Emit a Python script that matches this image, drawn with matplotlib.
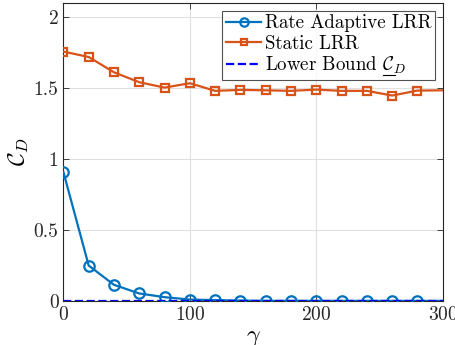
import numpy as np
import matplotlib
matplotlib.use("Agg")
import matplotlib.pyplot as plt
from matplotlib.lines import Line2D

# data
gamma = [0, 20, 40, 60, 80, 100, 120, 140, 160, 180, 200, 220, 240, 260, 280, 300]
rate_adaptive = [0.909, 0.249, 0.113, 0.052, 0.026, 0.009, 0.005, 0.002,
                 0.0, 0.0, 0.0, 0.0, 0.0, 0.0, 0.0, 0.0]
static = [1.758, 1.720, 1.612, 1.542, 1.504, 1.535, 1.481, 1.488,
          1.485, 1.481, 1.490, 1.481, 1.481, 1.448, 1.483, 1.485]
lower_bound = [0.0] * len(gamma)

plt.rcParams['font.family'] = 'serif'
plt.rcParams['font.serif'] = ['cmr10']
plt.rcParams['mathtext.fontset'] = 'cm'
plt.rcParams['axes.formatter.use_mathtext'] = True

fig = plt.figure(figsize=(4.56, 3.45), dpi=100)
ax = fig.add_axes([0.139, 0.128, 0.832, 0.863])

marks = list(range(len(gamma) - 1))  # last point sits on the axis edge, no marker there
ax.plot(gamma, rate_adaptive, '-o', color='#0072BD', lw=1.6, ms=7.5,
        mfc='none', mew=1.6, markevery=marks, label='Rate Adaptive LRR', zorder=3)
ax.plot(gamma, static, '-s', color='#D95319', lw=1.6, ms=6,
        mfc='none', mew=1.6, markevery=marks, label='Static LRR', zorder=3)
ax.plot(gamma, lower_bound, '--', color='blue', lw=1.6,
        label=r'Lower Bound $\mathcal{C}_D$', zorder=4)

ax.set_xlim(0, 300)
ax.set_ylim(0, 2.1)
ax.set_xticks([0, 100, 200, 300])
ax.set_yticks([0, 0.5, 1, 1.5, 2])
ax.set_yticklabels(['0', '0.5', '1', '1.5', '2'])
ax.tick_params(direction='in', top=True, right=True, labelsize=14,
               length=4, width=0.6, colors='#262626', labelcolor='#262626')
ax.grid(True, color='#dfdfdf', lw=0.8)
ax.set_axisbelow(True)
for s in ax.spines.values():
    s.set_color('#262626')
    s.set_linewidth(0.8)

ax.set_xlabel(r'$\gamma$', fontsize=17, labelpad=2)
ax.set_ylabel(r'$\mathcal{C}_D$', fontsize=17, labelpad=2)

leg = ax.legend(loc='upper right', fontsize=13.6, frameon=True, fancybox=False,
                handlelength=1.85, handletextpad=0.2, borderpad=0.2,
                labelspacing=0.12, borderaxespad=0.4, markerscale=0.8)
leg.get_frame().set_edgecolor('#262626')
leg.get_frame().set_linewidth(0.8)

# mathtext has no \underline: draw it under the C by hand
fig.canvas.draw()
r = fig.canvas.get_renderer()
txt = leg.get_texts()[2]
bb = txt.get_window_extent(r)
tmp = fig.text(0, 0, 'Lower Bound ', fontproperties=txt.get_fontproperties())
w0 = tmp.get_window_extent(r).width
tmp.set_text(r'$\mathcal{C}$')
wc = tmp.get_window_extent(r).width
tmp.remove()
y_ul = bb.y0 + 1
x0 = bb.x0 + w0 + 1
fig.add_artist(Line2D([x0 / fig.bbox.width, (x0 + wc) / fig.bbox.width],
                      [y_ul / fig.bbox.height] * 2, color='black', lw=0.8))

fig.savefig('out.png', dpi=100)
